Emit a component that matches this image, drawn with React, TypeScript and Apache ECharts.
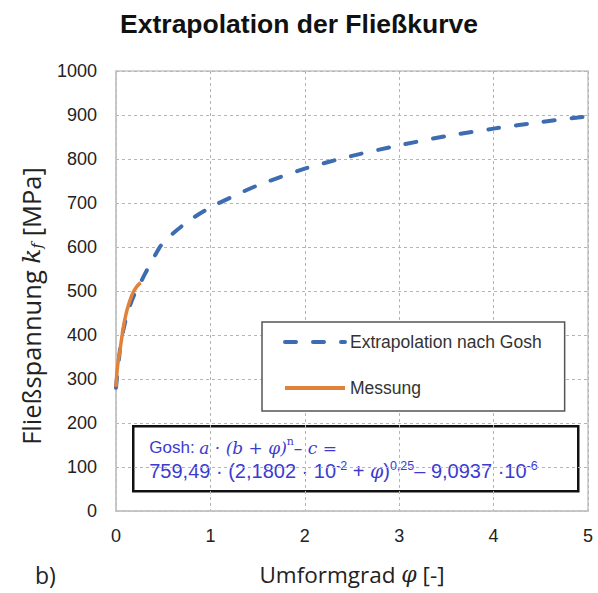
import React, { useEffect, useRef } from "react";
import * as echarts from "echarts";

// Extrapolation nach Gosh (dashed blue)
const goshPhi = [0, 0.05, 0.1, 0.15, 0.2, 0.26, 0.3, 0.4, 0.5, 0.75, 1, 1.25, 1.5, 2, 2.5, 3, 3.5, 4, 4.5, 5];
const goshKf = [280, 380, 432, 468, 495, 519, 536, 576, 610, 656, 690, 716, 740, 778, 807, 831, 852, 869, 884, 897];

// Messung (solid orange)
const messPhi = [0, 0.005, 0.01, 0.02, 0.03, 0.04, 0.06, 0.08, 0.1, 0.125, 0.15, 0.18, 0.22, 0.26];
const messKf = [282, 300, 315, 335, 350, 362, 392, 420, 442, 463, 480, 496, 510, 519];

const seriesNames = ["Extrapolation nach Gosh", "Messung"];
const titleText = "Extrapolation der Fließkurve";
const xMin = 0, xMax = 5, xStep = 1;
const yMin = 0, yMax = 1000, yStep = 100;

const SANS = "Liberation Sans, Arial, sans-serif";
const CAL = "Open Sans, Lato, sans-serif";
const SERIF = "DejaVu Serif, Liberation Serif, serif";

export default function App() {
  const ref = useRef<HTMLDivElement>(null);
  useEffect(() => {
    if (!ref.current) return;
    const chart = echarts.init(ref.current, undefined, { renderer: "svg" });
    const blue = "#3d6cb0";
    const orange = "#e0823a";
    const fcol = "#3b3bd0";
    chart.setOption({
      animation: false,
      backgroundColor: "#ffffff",
      title: {
        text: titleText,
        left: "center",
        top: 10,
        padding: 0,
        textStyle: { fontFamily: SANS, fontWeight: "bold", fontSize: 26.5, color: "#111" },
      },
      grid: { left: 116, top: 71, right: 10, bottom: 82, show: true, borderColor: "#c4c4c4", borderWidth: 1.5 },
      legend: {
        orient: "vertical",
        left: 262,
        top: 322,
        data: seriesNames,
        backgroundColor: "#ffffff",
        borderColor: "#555555",
        borderWidth: 1.5,
        padding: [11, 23, 14, 21],
        itemWidth: 60,
        itemHeight: 14,
        itemGap: 28,
        itemStyle: { opacity: 0 },
        lineStyle: { width: 4 },
        textStyle: { fontFamily: SANS, fontSize: 17.5, color: "#333" },
      },
      xAxis: {
        type: "value",
        min: xMin,
        max: xMax,
        interval: xStep,
        axisLine: { show: true, lineStyle: { color: "#c4c4c4", width: 1.5 } },
        axisTick: { show: false },
        axisLabel: { fontFamily: SANS, fontSize: 18, color: "#222", margin: 16 },
        splitLine: { show: true, lineStyle: { color: "#b5b5b5", type: [3, 3], width: 1 } },
        name: "Umformgrad {phi|φ} [-]",
        nameLocation: "middle",
        nameGap: 52,
        nameTextStyle: {
          fontFamily: CAL,
          fontSize: 22.5,
          color: "#222",
          rich: { phi: { fontFamily: SERIF, fontStyle: "italic", fontSize: 22, color: "#222" } },
        },
      },
      yAxis: {
        type: "value",
        min: yMin,
        max: yMax,
        interval: yStep,
        axisLine: { show: true, lineStyle: { color: "#c4c4c4", width: 1.5 } },
        axisTick: { show: false },
        axisLabel: { fontFamily: SANS, fontSize: 18, color: "#222", margin: 19, formatter: (v: number) => String(v) },
        splitLine: { show: true, lineStyle: { color: "#b5b5b5", type: [3, 3], width: 1 } },
        name: "Fließspannung {k|k}{f|f} [MPa]",
        nameLocation: "middle",
        nameRotate: 90,
        nameGap: 72,
        nameTextStyle: {
          fontFamily: CAL,
          fontSize: 25.5,
          color: "#222",
          padding: [0, 30, 0, 0],
          rich: {
            k: { fontFamily: SERIF, fontStyle: "italic", fontSize: 25, color: "#222" },
            f: { fontFamily: SERIF, fontStyle: "italic", fontSize: 15, color: "#222", verticalAlign: "bottom", padding: [9, 0, 0, 0] },
          },
        },
      },
      series: [
        {
          name: seriesNames[0],
          type: "line",
          data: goshPhi.map((x, i) => [x, goshKf[i]]),
          symbol: "none",
          smooth: 0.3,
          lineStyle: { color: blue, width: 4, type: [11, 17], cap: "round" },
          itemStyle: { color: blue },
          z: 2,
        },
        {
          name: seriesNames[1],
          type: "line",
          data: messPhi.map((x, i) => [x, messKf[i]]),
          symbol: "none",
          smooth: 0.3,
          lineStyle: { color: orange, width: 3.5 },
          itemStyle: { color: orange },
          z: 3,
        },
      ],
      graphic: [
        {
          type: "text",
          left: 35,
          top: 563,
          style: { text: "b)", font: `23px ${CAL}`, fill: "#222" },
        },
        {
          type: "group",
          left: 132,
          top: 425,
          z: 100,
          children: [
            {
              type: "rect",
              shape: { x: 0, y: 0, width: 445, height: 65 },
              style: { fill: "#ffffff", stroke: "#111", lineWidth: 2.5 },
            },
            {
              type: "text",
              x: 16,
              y: 10,
              style: {
                text:
                  "{t|Gosh: }{m|a · (b + φ)}{sup|n}{m|– c =}\n" +
                  "{t2|759,49 · (2,1802 · 10}{sup2|-2}{t2| + }{m2|φ}{t2|)}{sup2|0,25}{t2|– 9,0937 ·10}{sup2|-6}",
                rich: {
                  t: { fontFamily: SANS, fontSize: 17, fill: fcol, lineHeight: 23 },
                  m: { fontFamily: SERIF, fontStyle: "italic", fontSize: 17, fill: fcol, lineHeight: 23 },
                  sup: { fontFamily: SERIF, fontSize: 11, fill: fcol, verticalAlign: "top", lineHeight: 12 },
                  t2: { fontFamily: SANS, fontSize: 20, fill: fcol, lineHeight: 23 },
                  m2: { fontFamily: SERIF, fontStyle: "italic", fontSize: 19, fill: fcol, lineHeight: 23 },
                  sup2: { fontFamily: SANS, fontSize: 12.5, fill: fcol, verticalAlign: "top", lineHeight: 12 },
                },
              },
            },
          ],
        },
      ],
    });
    return () => chart.dispose();
  }, []);
  return <div ref={ref} style={{ position: "fixed", left: 0, top: 0, width: 598, height: 593 }} />;
}
